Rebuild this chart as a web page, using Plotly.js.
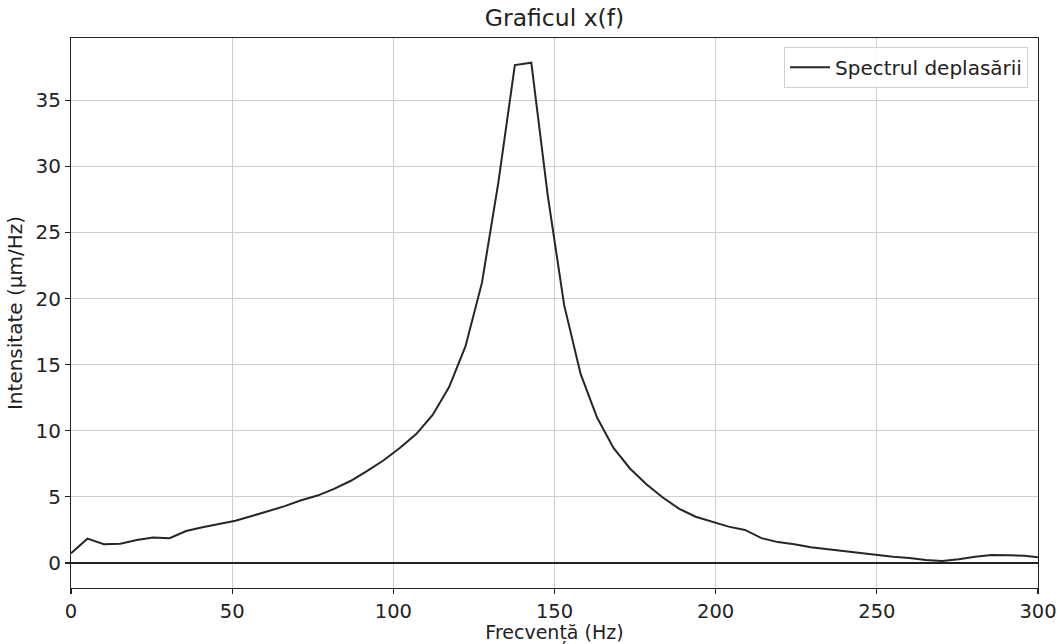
<!DOCTYPE html>
<html>
<head>
<meta charset="utf-8">
<script src="https://cdn.plot.ly/plotly-3.0.1.min.js"></script>
<style>html,body{margin:0;padding:0;background:#fff;}#chart{width:1060px;height:644px;}</style>
</head>
<body>
<div id="chart"></div>
<script>
// Frequency step (Hz) between spectrum samples
const freqStep = 5.1;
const intensity = [
  0.73, 1.84, 1.42, 1.46, 1.74, 1.92, 1.87, 2.42, 2.7, 2.95,
  3.2, 3.55, 3.9, 4.3, 4.75, 5.1, 5.6, 6.2, 6.95, 7.75,
  8.7, 9.75, 11.2, 13.3, 16.4, 21.2, 28.8, 37.65, 37.83, 27.8,
  19.5, 14.3, 11.0, 8.7, 7.15, 5.95, 4.95, 4.1, 3.5, 3.1,
  2.75, 2.5, 1.88, 1.58, 1.42, 1.2, 1.05, 0.92, 0.78, 0.65,
  0.48, 0.38, 0.22, 0.15, 0.28, 0.48, 0.6, 0.58, 0.55, 0.42
];
const frequency = intensity.map((_, i) => i * freqStep);
const xTicks = [0, 50, 100, 150, 200, 250, 300];
const yTicks = [0, 5, 10, 15, 20, 25, 30, 35];
const seriesName = "Spectrul deplasării";

const font = "DejaVu Sans, sans-serif";

const traces = [{
  x: frequency,
  y: intensity,
  type: "scatter",
  mode: "lines",
  name: seriesName,
  line: {color: "#262626", width: 2}
}];

const axisCommon = {
  showgrid: true,
  gridcolor: "#cfcfcf",
  gridwidth: 1,
  showline: true,
  linecolor: "#222",
  linewidth: 1.1,
  mirror: true,
  ticks: "outside",
  ticklen: 5,
  tickwidth: 1.1,
  tickcolor: "#222",
  tickfont: {family: font, size: 20, color: "#222"}
};

const layout = {
  width: 1060,
  height: 644,
  margin: {l: 71, r: 22, t: 38, b: 56, pad: 0},
  paper_bgcolor: "#fff",
  plot_bgcolor: "#fff",
  showlegend: true,
  title: {
    text: "Graficul x(f)",
    font: {family: font, size: 23.5, color: "#222"},
    x: 0.5, xref: "paper", xanchor: "center",
    y: 1 - 18 / 644, yref: "container", yanchor: "middle"
  },
  xaxis: Object.assign({}, axisCommon, {
    range: [0, 300],
    tickvals: xTicks,
    ticktext: xTicks.map(String),
    zeroline: false,
    tickfont: {family: font, size: 19.5, color: "#222"},
    title: {text: "Frecvență (Hz)", font: {family: font, size: 19, color: "#222"}, standoff: 6}
  }),
  yaxis: Object.assign({}, axisCommon, {
    range: [-1.89, 39.7],
    tickvals: yTicks,
    ticktext: yTicks.map(String),
    zeroline: true,
    zerolinecolor: "#222",
    zerolinewidth: 2,
    title: {text: "Intensitate (μm/Hz)", font: {family: font, size: 20, color: "#222"}, standoff: 7}
  }),
  legend: {
    x: 0.9897, xanchor: "right",
    y: 0.984, yanchor: "top",
    bgcolor: "rgba(255,255,255,0.8)",
    bordercolor: "#d0d0d0",
    borderwidth: 1,
    itemwidth: 40,
    font: {family: font, size: 20, color: "#222"}
  }
};

Plotly.newPlot("chart", traces, layout, {staticPlot: true, displayModeBar: false});
</script>
</body>
</html>
